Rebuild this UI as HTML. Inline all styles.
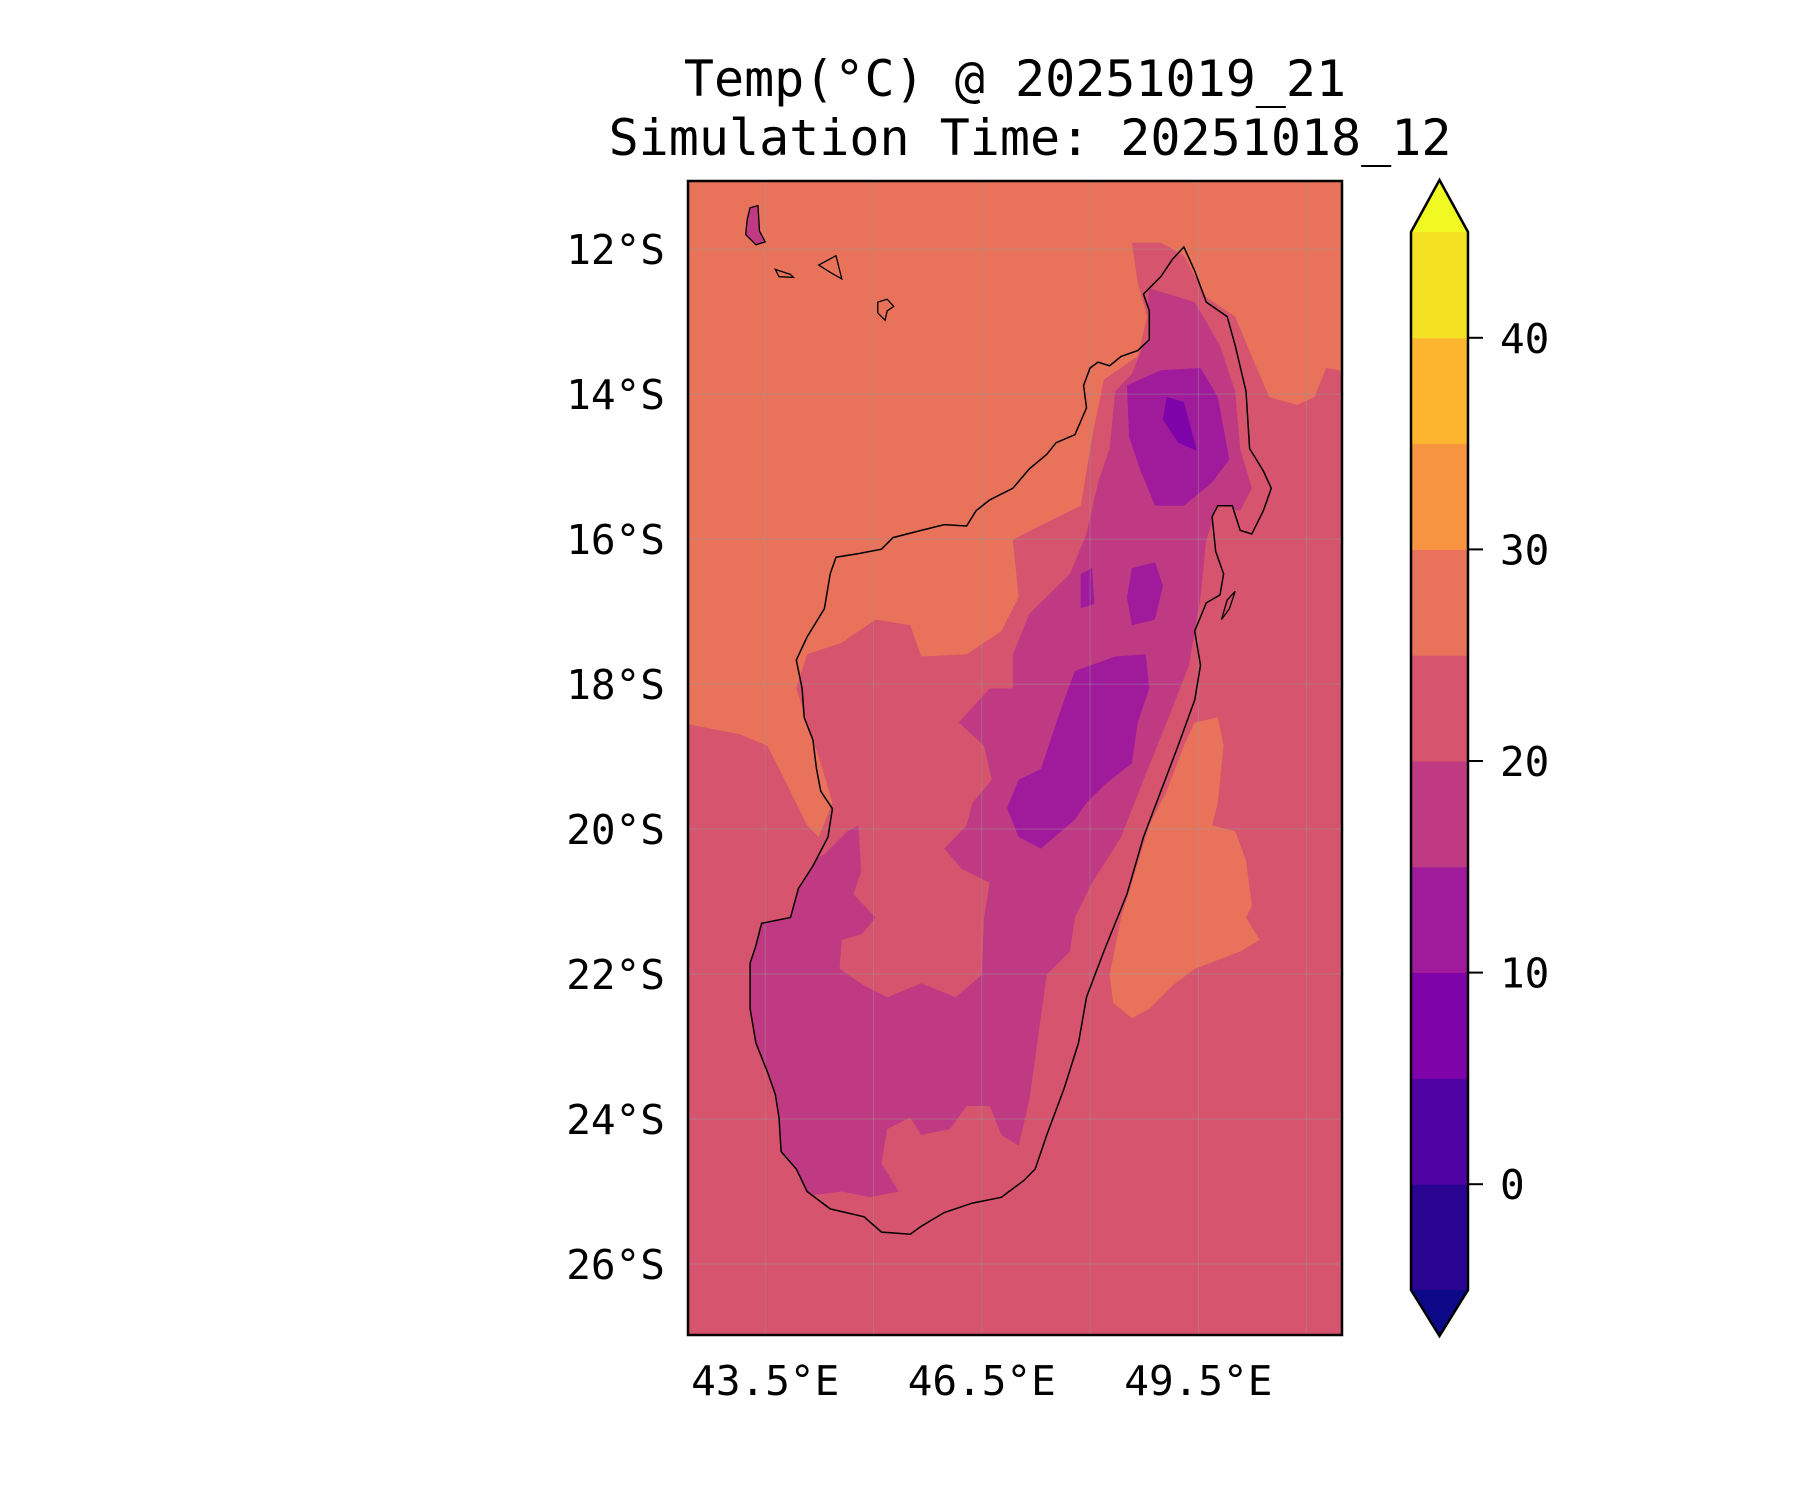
<!DOCTYPE html>
<html><head><meta charset="utf-8"><style>
html,body{margin:0;padding:0;background:#fff;}
svg text{font-family:"DejaVu Sans Mono","Liberation Mono",monospace;fill:#000;}
</style></head><body>
<svg id="chart" width="1800" height="1500" viewBox="0 0 1800 1500" xmlns="http://www.w3.org/2000/svg">
<text x="1015" y="96" font-size="50" text-anchor="middle">Temp(°C) @ 20251019_21</text>
<text x="1030" y="155" font-size="50" text-anchor="middle">Simulation Time: 20251018_12</text>
<defs>
<clipPath id="plotClip"><rect x="688" y="181" width="654" height="1154"/></clipPath>
<clipPath id="landClip"><polygon id="landClipPoly"/></clipPath>
</defs>
<g id="mapLayer" clip-path="url(#plotClip)"></g>
<g id="axesLayer"></g>
<g id="cbarLayer"></g>
</svg>
<script>
const lonMin = 42.43, lonMax = 51.49, latMin = -26.98, latMax = -11.06;
const xTicks = [43.5, 46.5, 49.5];
const xTickLabels = ["43.5°E", "46.5°E", "49.5°E"];
const gridLons = [43.5, 45, 46.5, 48, 49.5, 51];
const yTicks = [-12, -14, -16, -18, -20, -22, -24, -26];
const yTickLabels = ["12°S", "14°S", "16°S", "18°S", "20°S", "22°S", "24°S", "26°S"];
const cbarLevels = [-5, 0, 5, 10, 15, 20, 25, 30, 35, 40, 45];
const cbarColors = ["#2a0592", "#5002a3", "#7e03a8", "#a01a9c", "#c03a83", "#d6546d", "#e8735a", "#f79441", "#fdb42f", "#f4e122"];
const cbarTicks = [0, 10, 20, 30, 40];
const coast = [[49.30,11.97],[49.45,12.30],[49.61,12.73],[49.90,12.93],[50.01,13.33],[50.16,13.96],[50.21,14.75],[50.40,15.06],[50.51,15.30],[50.40,15.61],[50.24,15.93],[50.08,15.88],[49.97,15.54],[49.77,15.54],[49.69,15.69],[49.74,16.17],[49.85,16.48],[49.80,16.77],[49.61,16.88],[49.45,17.27],[49.53,17.74],[49.45,18.22],[49.22,18.85],[48.98,19.48],[48.74,20.11],[48.51,20.90],[48.19,21.69],[47.95,22.32],[47.84,22.95],[47.64,23.58],[47.40,24.22],[47.24,24.69],[47.08,24.85],[46.77,25.08],[46.37,25.16],[45.98,25.29],[45.66,25.48],[45.51,25.59],[45.11,25.56],[44.87,25.35],[44.40,25.24],[44.08,25.00],[43.93,24.69],[43.72,24.45],[43.69,23.98],[43.64,23.66],[43.53,23.35],[43.37,22.95],[43.29,22.48],[43.29,21.85],[43.37,21.61],[43.45,21.30],[43.85,21.22],[43.96,20.82],[44.16,20.51],[44.37,20.11],[44.43,19.72],[44.27,19.48],[44.21,19.17],[44.16,18.77],[44.04,18.46],[44.01,18.06],[43.93,17.67],[44.08,17.35],[44.32,16.96],[44.40,16.48],[44.48,16.25],[44.79,16.20],[45.11,16.14],[45.27,15.98],[45.66,15.88],[45.98,15.80],[46.29,15.82],[46.42,15.61],[46.61,15.46],[46.93,15.30],[47.16,15.03],[47.40,14.83],[47.53,14.67],[47.79,14.56],[47.95,14.19],[47.91,13.88],[48.00,13.64],[48.11,13.56],[48.27,13.61],[48.43,13.48],[48.66,13.40],[48.82,13.25],[48.82,12.85],[48.74,12.62],[48.98,12.38],[49.14,12.14]];
const orangeZone = [[42.3,11.0],[51.7,11.0],[51.7,13.72],[51.27,13.64],[51.11,14.04],[50.87,14.15],[50.48,14.04],[50.24,13.48],[50.01,12.93],[49.61,12.66],[49.30,12.09],[48.98,11.91],[48.58,11.91],[48.66,12.46],[48.79,12.93],[48.66,13.48],[48.19,13.80],[48.03,14.59],[47.87,15.54],[47.24,15.85],[46.93,16.01],[47.01,16.80],[46.77,17.27],[46.29,17.59],[45.66,17.62],[45.51,17.19],[45.03,17.11],[44.56,17.43],[44.08,17.59],[43.93,18.06],[44.08,18.53],[44.27,19.09],[44.43,19.64],[44.24,20.11],[44.08,19.95],[43.77,19.32],[43.53,18.85],[43.14,18.69],[42.3,18.53]];
const pinkZone = [[48.82,12.54],[49.45,12.73],[49.80,13.33],[50.01,13.96],[50.08,14.75],[50.24,15.30],[50.08,15.61],[49.77,15.54],[49.61,16.01],[49.53,16.80],[49.37,17.74],[49.06,18.53],[48.74,19.32],[48.43,20.11],[48.03,20.74],[47.79,21.22],[47.72,21.69],[47.40,22.01],[47.29,22.80],[47.16,23.74],[47.01,24.37],[46.77,24.22],[46.61,23.82],[46.29,23.82],[46.06,24.14],[45.66,24.22],[45.51,23.98],[45.19,24.14],[45.11,24.61],[45.35,25.00],[44.95,25.08],[44.56,25.00],[43.0,25.2],[42.9,21.0],[44.32,20.35],[44.64,20.03],[44.79,19.95],[44.83,20.59],[44.72,20.90],[45.03,21.22],[44.84,21.45],[44.56,21.53],[44.53,21.93],[44.87,22.16],[45.19,22.32],[45.66,22.13],[46.14,22.32],[46.50,22.01],[46.53,21.22],[46.61,20.74],[46.22,20.55],[45.98,20.27],[46.29,19.95],[46.37,19.64],[46.64,19.32],[46.53,18.85],[46.18,18.53],[46.61,18.06],[46.93,18.06],[46.93,17.59],[47.16,17.03],[47.72,16.48],[47.95,15.93],[48.11,15.22],[48.27,14.75],[48.35,13.96],[48.58,13.72],[48.74,13.33]];
const purpleZones = [
 [[48.51,13.88],[48.98,13.67],[49.53,13.64],[49.77,14.04],[49.93,14.90],[49.69,15.22],[49.30,15.54],[48.90,15.54],[48.70,15.06],[48.54,14.59]],
 [[48.58,16.40],[48.90,16.32],[49.01,16.64],[48.90,17.11],[48.58,17.19],[48.51,16.80]],
 [[47.79,17.82],[48.35,17.62],[48.77,17.59],[48.82,18.06],[48.66,18.53],[48.58,19.09],[48.19,19.40],[47.95,19.64],[47.79,19.87],[47.32,20.27],[47.01,20.11],[46.85,19.71],[47.01,19.32],[47.32,19.17],[47.48,18.69],[47.64,18.22]],
 [[47.87,16.48],[48.03,16.40],[48.06,16.90],[47.87,16.95]]
];
const deepZones = [[[49.06,14.04],[49.30,14.11],[49.48,14.78],[49.22,14.67],[49.01,14.35]]];
const eastOrange = [[49.45,18.53],[49.77,18.46],[49.85,18.85],[49.77,19.64],[49.69,19.95],[50.01,20.03],[50.16,20.43],[50.24,21.06],[50.16,21.22],[50.35,21.53],[50.08,21.69],[49.45,21.93],[49.14,22.16],[48.82,22.48],[48.58,22.61],[48.32,22.40],[48.27,22.01],[48.43,21.22],[48.58,20.74],[48.82,19.95],[49.06,19.48],[49.30,18.85]];
const islands = [
 {name:"grande-comore", fill:"#c03a83", pts:[[43.29,11.43],[43.40,11.40],[43.42,11.75],[43.50,11.90],[43.37,11.94],[43.23,11.80],[43.25,11.59]]},
 {name:"moheli", fill:"#e8735a", pts:[[43.64,12.28],[43.85,12.35],[43.89,12.39],[43.69,12.38]]},
 {name:"anjouan", fill:"#e8735a", pts:[[44.24,12.22],[44.48,12.09],[44.56,12.41],[44.40,12.32]]},
 {name:"mayotte", fill:"#e8735a", pts:[[45.06,12.73],[45.19,12.69],[45.28,12.79],[45.19,12.85],[45.16,12.98],[45.06,12.88]]},
 {name:"nosy-boraha", fill:"#d6546d", pts:[[50.01,16.72],[49.93,16.96],[49.82,17.11],[49.90,16.84]]}
];
const PL=688, PR=1342, PT=181, PB=1335;
function xs(lon){return PL+(lon-lonMin)/(lonMax-lonMin)*(PR-PL);}
function ys(lat){return PT+(latMax-lat)/(latMax-latMin)*(PB-PT);}
function ptsStr(arr){return arr.map(p=>xs(p[0]).toFixed(1)+","+ys(-p[1]).toFixed(1)).join(" ");}
const NS="http://www.w3.org/2000/svg";
function mk(tag,attrs,parent){const e=document.createElementNS(NS,tag);for(const k in attrs)e.setAttribute(k,attrs[k]);parent.appendChild(e);return e;}
const map=document.getElementById('mapLayer');
document.getElementById('landClipPoly').setAttribute('points',ptsStr(coast));
let bg=mk('rect',{x:PL,y:PT,width:PR-PL,height:PB-PT,fill:"#d6546d"},map);


let oz=mk('polygon',{points:ptsStr(orangeZone),fill:"#e8735a"},map);


let eo=mk('polygon',{points:ptsStr(eastOrange),fill:"#e8735a"},map);


const landG=mk('g',{'clip-path':'url(#landClip)'},map);


let pz=mk('polygon',{points:ptsStr(pinkZone),fill:"#c03a83"},landG);


purpleZones.forEach(z=>{let e=mk('polygon',{points:ptsStr(z),fill:"#a01a9c"},landG);

});
deepZones.forEach(z=>{let e=mk('polygon',{points:ptsStr(z),fill:"#7e03a8"},landG);

});
gridLons.forEach(l=>{let e=mk('line',{x1:xs(l),x2:xs(l),y1:PT,y2:PB,stroke:"#999",'stroke-opacity':0.45,'stroke-width':1},map);

});
yTicks.forEach(l=>{let e=mk('line',{x1:PL,x2:PR,y1:ys(l),y2:ys(l),stroke:"#999",'stroke-opacity':0.45,'stroke-width':1},map);

});
let cl=mk('polygon',{points:ptsStr(coast),fill:"none",stroke:"#000",'stroke-width':1.5},map);


islands.forEach(is=>{let e=mk('polygon',{points:ptsStr(is.pts),fill:is.fill,stroke:"#000",'stroke-width':1.3},map);

});
const ax=document.getElementById('axesLayer');
let fr=mk('rect',{x:PL,y:PT,width:PR-PL,height:PB-PT,fill:"none",stroke:"#000",'stroke-width':2.5},ax);


xTicks.forEach((t,i)=>{let e=mk('text',{x:xs(t),y:1395,'font-size':41,'text-anchor':'middle'},ax);e.textContent=xTickLabels[i];

});
yTicks.forEach((t,i)=>{let e=mk('text',{x:665,y:ys(t)+15,'font-size':41,'text-anchor':'end'},ax);e.textContent=yTickLabels[i];

});
const cb=document.getElementById('cbarLayer');
const CL=1411, CR=1468, CT=232, CB=1290, TIPT=180, TIPB=1336;
function cy(v){return CB-(v-cbarLevels[0])/(cbarLevels[cbarLevels.length-1]-cbarLevels[0])*(CB-CT);}
for(let i=0;i<cbarColors.length;i++){let e=mk('rect',{x:CL,y:cy(cbarLevels[i+1]),width:CR-CL,height:cy(cbarLevels[i])-cy(cbarLevels[i+1])+0.5,fill:cbarColors[i]},cb);

}
let tt=mk('polygon',{points:`${CL},${CT} ${(CL+CR)/2},${TIPT} ${CR},${CT}`,fill:"#f0f921"},cb);


let tb=mk('polygon',{points:`${CL},${CB} ${(CL+CR)/2},${TIPB} ${CR},${CB}`,fill:"#0d0887"},cb);


let co=mk('polygon',{points:`${CL},${CT} ${(CL+CR)/2},${TIPT} ${CR},${CT} ${CR},${CB} ${(CL+CR)/2},${TIPB} ${CL},${CB}`,fill:"none",stroke:"#000",'stroke-width':2.5},cb);


cbarTicks.forEach(t=>{let l=mk('line',{x1:CR,x2:CR+15,y1:cy(t),y2:cy(t),stroke:"#000",'stroke-width':2},cb);


let e=mk('text',{x:1500,y:cy(t)+15,'font-size':41},cb);e.textContent=String(t);

});
</script>
</body></html>
